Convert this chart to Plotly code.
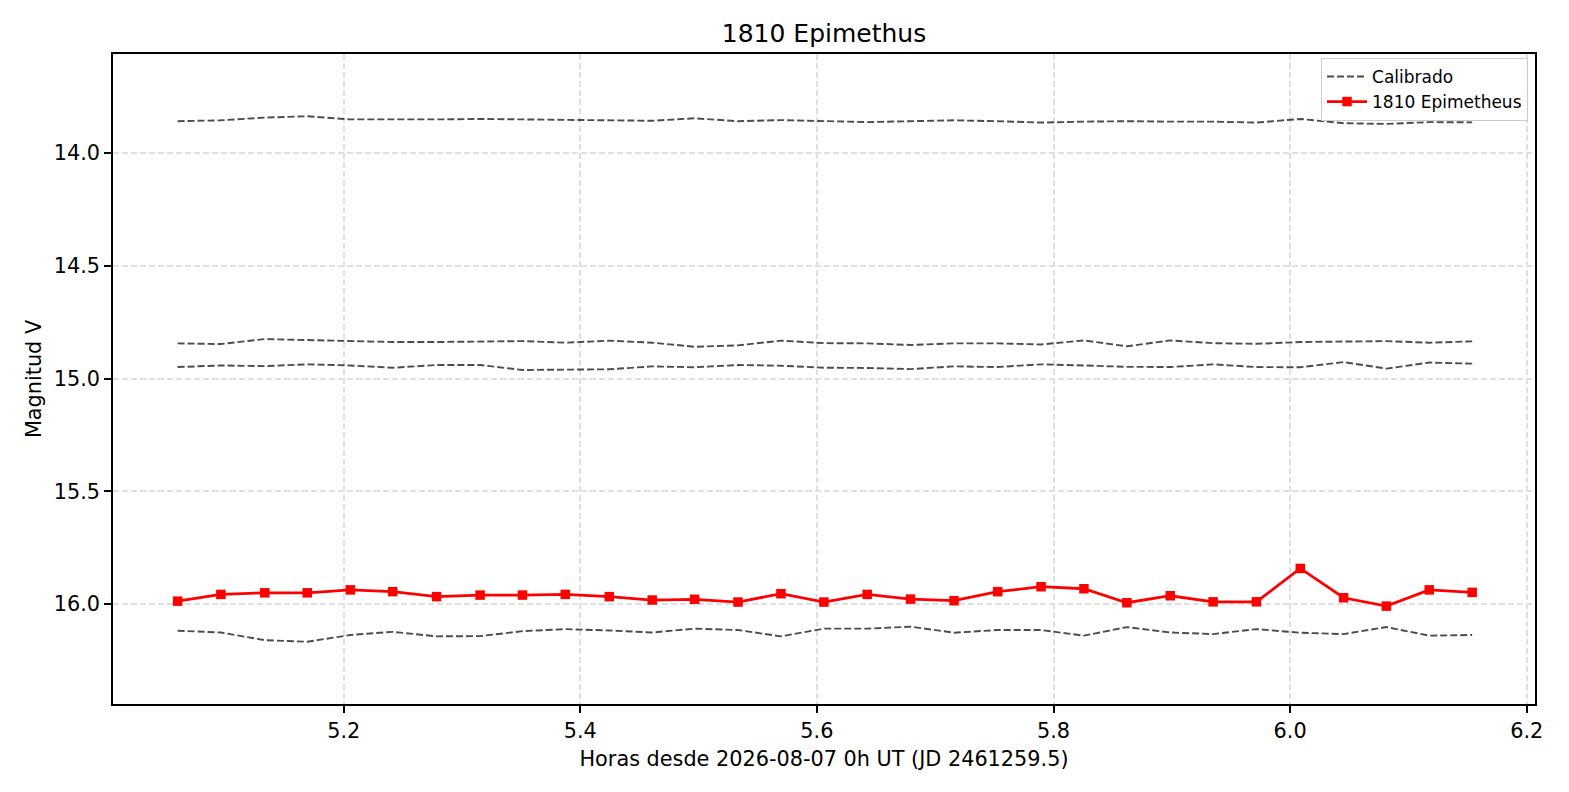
import plotly.graph_objects as go

# horas desde 2026-08-07 0h UT
horas = [5.0596, 5.0962, 5.1333, 5.1692, 5.2056, 5.2414, 5.2785, 5.3153,
         5.3511, 5.3873, 5.4245, 5.4608, 5.4966, 5.5333, 5.5696, 5.6059,
         5.6425, 5.6791, 5.7159, 5.7528, 5.7895, 5.8257, 5.8620, 5.8987,
         5.9349, 5.9715, 6.0086, 6.0452, 6.0814, 6.1176, 6.1539]

# asteroide
mag_obj = [15.987, 15.957, 15.950, 15.950, 15.937, 15.945, 15.967, 15.960,
           15.960, 15.957, 15.967, 15.982, 15.979, 15.991, 15.954, 15.991,
           15.957, 15.978, 15.985, 15.945, 15.923, 15.932, 15.994, 15.963,
           15.990, 15.990, 15.842, 15.972, 16.009, 15.937, 15.948]
err_obj = [0.008, 0.008, 0.008, 0.008, 0.008, 0.008, 0.008, 0.008,
           0.008, 0.008, 0.008, 0.008, 0.008, 0.008, 0.008, 0.008,
           0.009, 0.009, 0.009, 0.009, 0.009, 0.009, 0.010, 0.010,
           0.010, 0.010, 0.010, 0.011, 0.014, 0.016, 0.016]

# estrellas de comparacion calibradas
cal_1 = [13.859, 13.855, 13.843, 13.837, 13.851, 13.852, 13.851, 13.849,
         13.851, 13.852, 13.855, 13.857, 13.846, 13.859, 13.854, 13.860,
         13.863, 13.859, 13.855, 13.859, 13.865, 13.861, 13.859, 13.861,
         13.861, 13.865, 13.849, 13.868, 13.871, 13.863, 13.864]
cal_2 = [14.844, 14.847, 14.825, 14.829, 14.835, 14.838, 14.838, 14.836,
         14.834, 14.841, 14.832, 14.841, 14.859, 14.853, 14.832, 14.843,
         14.844, 14.851, 14.844, 14.844, 14.849, 14.831, 14.857, 14.831,
         14.843, 14.846, 14.838, 14.836, 14.834, 14.841, 14.835]
cal_3 = [14.949, 14.942, 14.945, 14.937, 14.942, 14.952, 14.940, 14.940,
         14.962, 14.959, 14.959, 14.946, 14.950, 14.940, 14.943, 14.952,
         14.953, 14.958, 14.946, 14.949, 14.937, 14.942, 14.948, 14.949,
         14.937, 14.949, 14.950, 14.927, 14.956, 14.929, 14.934]
cal_4 = [16.118, 16.126, 16.160, 16.167, 16.137, 16.123, 16.143, 16.142,
         16.120, 16.111, 16.117, 16.126, 16.109, 16.115, 16.143, 16.109,
         16.109, 16.100, 16.127, 16.115, 16.115, 16.140, 16.102, 16.126,
         16.133, 16.111, 16.127, 16.133, 16.102, 16.140, 16.137]

FONT = "DejaVu Sans"

fig = go.Figure()

for i, cal in enumerate([cal_1, cal_2, cal_3, cal_4]):
    fig.add_trace(
        go.Scatter(
            x=horas,
            y=cal,
            mode="lines",
            name="Calibrado",
            legendgroup="cal",
            showlegend=(i == 0),
            line=dict(color="rgba(0,0,0,0.7)", width=1.9, dash="7px,3px"),
            hoverinfo="skip",
        )
    )

fig.add_trace(
    go.Scatter(
        x=horas,
        y=mag_obj,
        mode="lines+markers",
        name="1810 Epimetheus",
        line=dict(color="red", width=2.8),
        marker=dict(symbol="square", size=9.5, color="red"),
        error_y=dict(
            type="data",
            array=err_obj,
            color="rgba(128,128,128,0.6)",
            thickness=1.6,
            width=3,
        ),
    )
)

axis_common = dict(
    showline=True,
    linecolor="black",
    linewidth=1.7,
    mirror=True,
    ticks="outside",
    ticklen=7,
    tickwidth=1.7,
    tickcolor="black",
    tickfont=dict(family=FONT, size=20.8, color="black"),
    showgrid=True,
    gridcolor="#e0e0e0",
    gridwidth=1.6,
    griddash="6px,3px",
    zeroline=False,
    tickformat=".1f",
)

# la pagina deja 8 px de margen alrededor del grafico
fig.update_layout(
    width=1569,
    height=792,
    template="none",
    plot_bgcolor="white",
    paper_bgcolor="white",
    margin=dict(l=105, r=42, t=46, b=96),
    font=dict(family=FONT, size=20.8, color="black"),
    title=dict(
        text="1810 Epimethus",
        x=(105 + 1422 / 2) / 1569,
        xanchor="center",
        y=1 - 25 / 792,
        yanchor="middle",
        font=dict(family=FONT, size=25, color="black"),
    ),
    xaxis=dict(
        axis_common,
        range=[5.005, 6.207],
        tick0=5.0,
        dtick=0.2,
        title=dict(
            text="Horas desde 2026-08-07 0h UT (JD 2461259.5)",
            font=dict(family=FONT, size=20.8),
            standoff=10,
        ),
    ),
    yaxis=dict(
        axis_common,
        range=[16.443, 13.561],
        tick0=14.0,
        dtick=0.5,
        title=dict(
            text="Magnitud V",
            font=dict(family=FONT, size=20.8),
            standoff=6,
        ),
    ),
    legend=dict(
        x=0.9951,
        y=0.994,
        xanchor="right",
        yanchor="top",
        bgcolor="rgba(255,255,255,0.8)",
        bordercolor="#cccccc",
        borderwidth=1,
        font=dict(family=FONT, size=17, color="black"),
        itemwidth=40,
        tracegroupgap=0,
    ),
    showlegend=True,
)

fig.write_html("out.html")
